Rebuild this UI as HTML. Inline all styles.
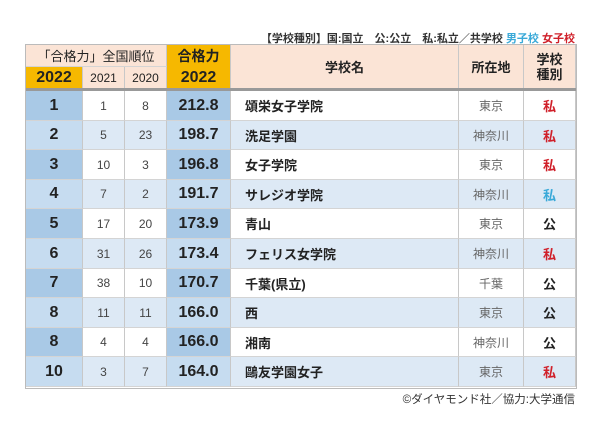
<!DOCTYPE html>
<html><head><meta charset="utf-8"><style>
body{margin:0;width:600px;height:429px;background:#fff;font-family:"Liberation Sans","Noto Sans CJK JP",sans-serif;position:relative;overflow:hidden}
.c{position:absolute;display:flex;align-items:center;justify-content:center;box-sizing:border-box;border-right:1px solid #c8c8c8;border-bottom:1px solid #d4d4d4;color:#222}
.t{position:absolute;font-size:11px;font-weight:bold;color:#333;white-space:nowrap}
</style></head><body>
<div class="t" style="right:25px;top:30px;font-size:11px">【学校種別】国:国立　公:公立　私:私立／共学校 <span style="color:#3aa9d8">男子校</span> <span style="color:#d0202a">女子校</span></div>
<div id="tbl"></div>
<div class="t" style="right:25px;top:391px;font-weight:normal;font-size:11.5px;color:#333">©ダイヤモンド社／協力:大学通信</div>
<script>
const ranks2022=["1","2","3","4","5","6","7","8","8","10"];
const ranks2021=["1","5","10","7","17","31","38","11","4","3"];
const ranks2020=["8","23","3","2","20","26","10","11","4","7"];
const scores=["212.8","198.7","196.8","191.7","173.9","173.4","170.7","166.0","166.0","164.0"];
const names=["頌栄女子学院","洗足学園","女子学院","サレジオ学院","青山","フェリス女学院","千葉(県立)","西","湘南","鷗友学園女子"];
const locs=["東京","神奈川","東京","神奈川","東京","神奈川","千葉","東京","神奈川","東京"];
const types=["私","私","私","私","公","私","公","公","公","私"];
const typeColors=["#d0202a","#d0202a","#d0202a","#3aa9d8","#222","#d0202a","#222","#222","#222","#d0202a"];
const T=document.getElementById('tbl');
const X=[26,83,125,167,231,459,524,576];
function cell(x,y,w,h,txt,bg,st,name){const d=document.createElement('div');d.className='c';


d.style.cssText=`left:${x}px;top:${y}px;width:${w}px;height:${h}px;background:${bg};${st||''}`;d.innerHTML=txt;T.appendChild(d);return d;}
const pk='#fbe4d6',yl='#f6b800';
cell(26,45,141,22,'「合格力」全国順位',pk,'font-size:13px;','header-rank-group');
cell(26,67,57,22,'2022',yl,'font-size:16px;font-weight:bold;','header-2022');
cell(83,67,42,22,'2021',pk,'font-size:12px;','header-2021');
cell(125,67,42,22,'2020',pk,'font-size:12px;','header-2020');
cell(167,45,64,22,'合格力',yl,'font-size:14px;font-weight:bold;border-bottom:none','header-score');
cell(167,67,64,22,'2022',yl,'font-size:16px;font-weight:bold;','header-score-year');
cell(231,45,228,44,'学校名',pk,'font-size:13px;font-weight:bold;','header-name');
cell(459,45,65,44,'所在地',pk,'font-size:13px;font-weight:bold;','header-location');
cell(524,45,52,44,'学校<br>種別',pk,'font-size:13px;font-weight:bold;line-height:15px;text-align:center','header-type');
const bar=document.createElement('div');bar.style.cssText='position:absolute;left:26px;top:88px;width:550px;height:3px;background:#999';


T.appendChild(bar);
const y0=91,rh=29.6;
for(let i=0;i<10;i++){const y=Math.round(y0+i*rh),h=Math.round(y0+(i+1)*rh)-y,odd=i%2==0;
const dk=odd?'#a9c9e6':'#c6dcf0',lt=odd?'#ffffff':'#dde9f5';
cell(X[0],y,X[1]-X[0],h,ranks2022[i],dk,'font-size:16px;font-weight:bold;','rank-2022-'+(i+1));
cell(X[1],y,X[2]-X[1],h,ranks2021[i],lt,'font-size:12px;color:#444;','rank-2021-'+(i+1));
cell(X[2],y,X[3]-X[2],h,ranks2020[i],lt,'font-size:12px;color:#444;','rank-2020-'+(i+1));
cell(X[3],y,X[4]-X[3],h,scores[i],dk,'font-size:16px;font-weight:bold;','score-'+(i+1));
cell(X[4],y,X[5]-X[4],h,names[i],lt,'font-size:13px;font-weight:bold;justify-content:flex-start;padding-left:14px;','school-name-'+(i+1));
cell(X[5],y,X[6]-X[5],h,locs[i],lt,'font-size:12px;color:#666;','location-'+(i+1));
cell(X[6],y,X[7]-X[6],h,types[i],lt,'font-size:13px;font-weight:bold;color:'+typeColors[i]+';','school-type-'+(i+1));}
const ob=document.createElement('div');ob.style.cssText='position:absolute;left:25px;top:44px;width:550px;height:343px;border:1px solid #bbb;pointer-events:none';


T.appendChild(ob);
</script>
</body></html>
